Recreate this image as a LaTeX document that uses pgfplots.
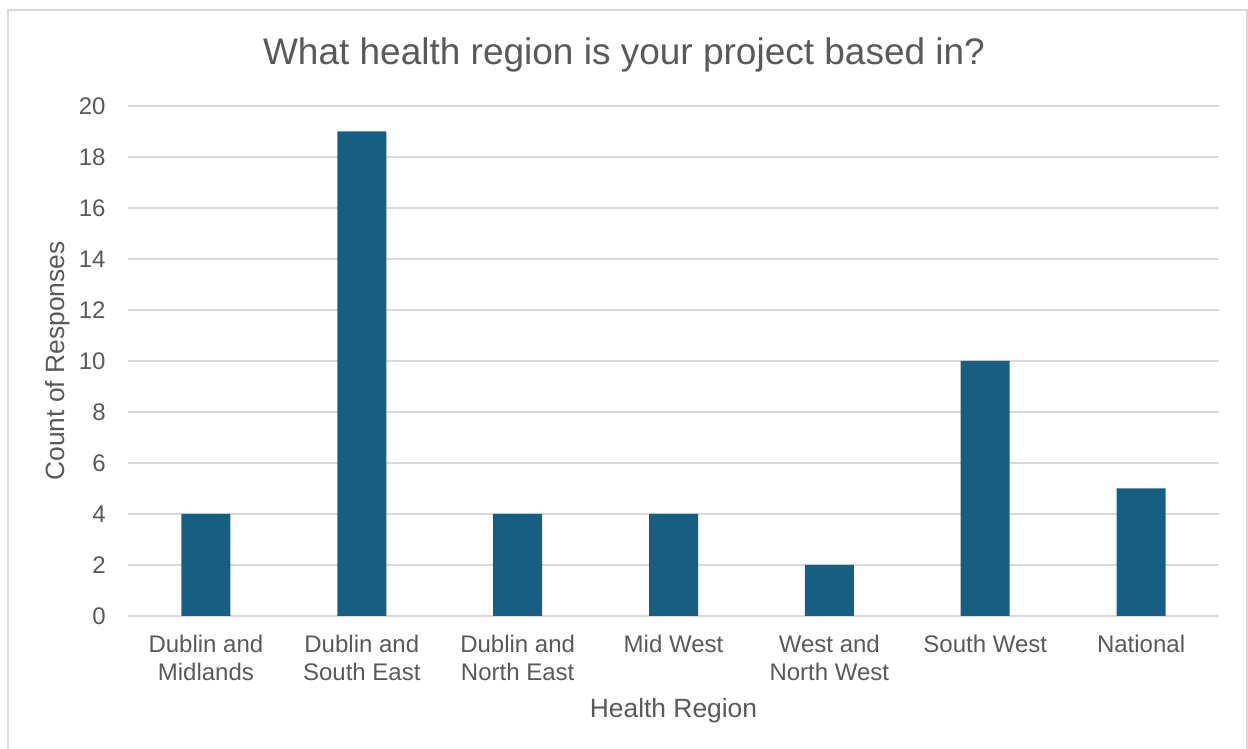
\documentclass[border=0pt]{standalone}
\usepackage{pgfplots}
\pgfplotsset{compat=1.18}
\usepackage{fontspec}
\setmainfont{Liberation Sans}
\definecolor{barc}{HTML}{175F82}
\definecolor{txt}{HTML}{595959}
\definecolor{gridc}{HTML}{D9D9D9}
\definecolor{frame}{HTML}{D9D9D9}
\begin{document}
\begin{tikzpicture}
\useasboundingbox (-64pt,-66.5pt) rectangle (560pt,308pt);
\draw[frame, line width=0.75pt] (-60pt,-70pt) rectangle (559.5pt,303pt);
\begin{axis}[
  at={(0pt,0pt)}, anchor=south west,
  scale only axis,
  width=545.5pt, height=255pt,
  ybar, bar width=24.5pt,
  xmin=-0.5, xmax=6.5,
  ymin=0, ymax=20,
  ytick={0,2,...,20},
  xtick=data,
  xticklabels={{Dublin and\\Midlands},{Dublin and\\South East},{Dublin and\\North East},{Mid West},{West and\\North West},{South West},{National}},
  axis line style={draw=none},
  major tick length=0pt,
  ymajorgrids,
  major grid style={gridc, line width=0.75pt},
  /pgf/number format/assume math mode=true,
  tick label style={text=txt, font=\fontsize{12}{14}\selectfont},
  xticklabel style={align=center, anchor=north, inner sep=0pt, yshift=-9.5pt},
  yticklabel style={anchor=east, inner sep=0pt, xshift=-11pt},
  clip=false,
]
\addplot[fill=barc, draw=none] coordinates {(0,4) (1,19) (2,4) (3,4) (4,2) (5,10) (6,5)};
\end{axis}
\node[anchor=base, text=txt, font=\fontsize{18.5}{22}\selectfont] at (248pt,275.5pt) {What health region is your project based in?};
\node[anchor=base, text=txt, font=\fontsize{13.2}{15}\selectfont] at (272.75pt,-51pt) {Health Region};
\node[anchor=center, rotate=90, text=txt, font=\fontsize{13.2}{15}\selectfont] at (-35pt,127.5pt) {Count of Responses};
\end{tikzpicture}
\end{document}
